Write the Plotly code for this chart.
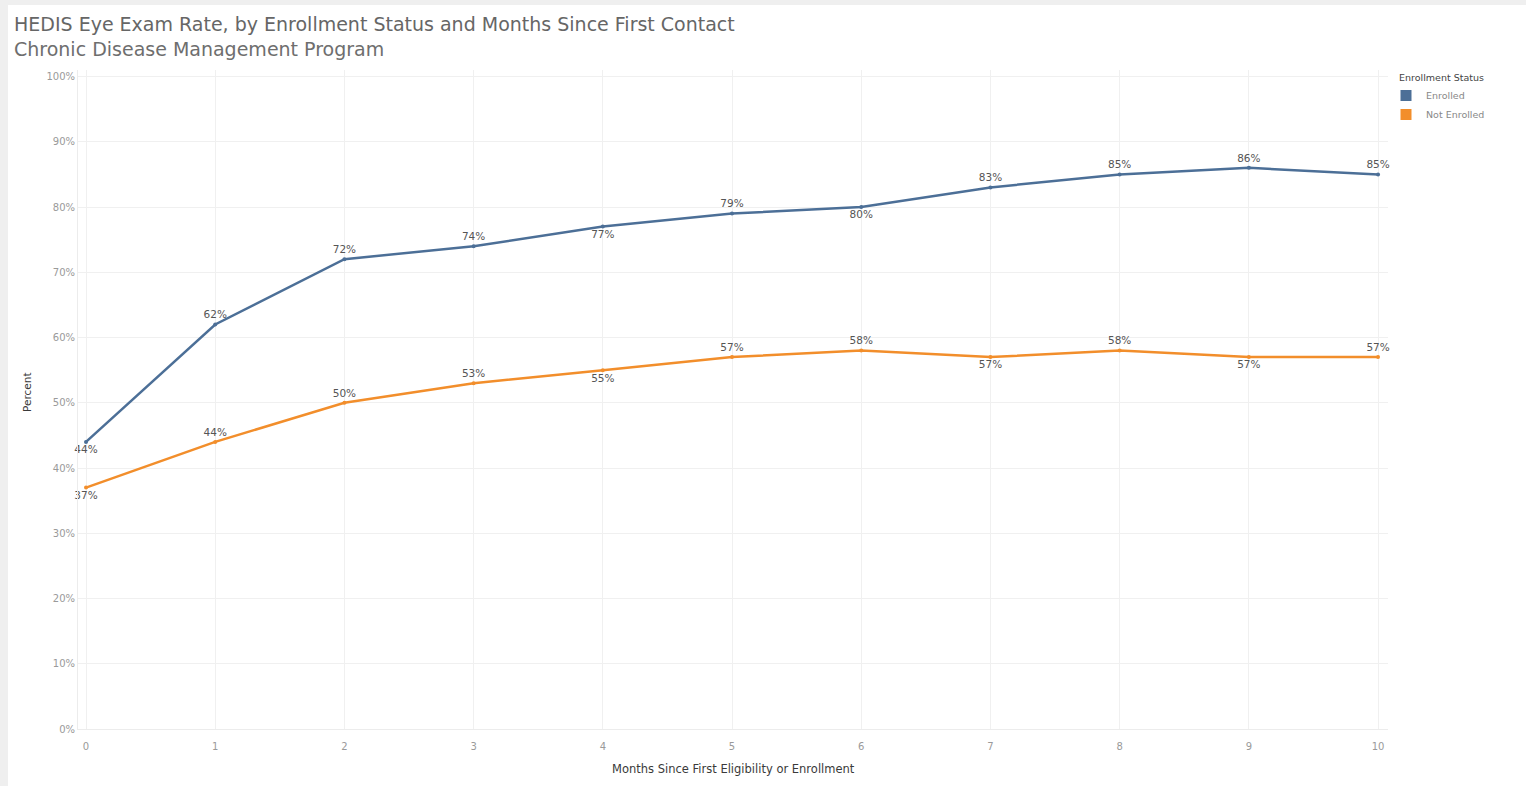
import plotly.graph_objects as go

# Months since first eligibility or enrollment
months = [0, 1, 2, 3, 4, 5, 6, 7, 8, 9, 10]

# HEDIS eye exam rate (%) by enrollment status
enrolled = [44, 62, 72, 74, 77, 79, 80, 83, 85, 86, 85]
not_enrolled = [37, 44, 50, 53, 55, 57, 58, 57, 58, 57, 57]

# Label placement per point (keeps labels from colliding)
enrolled_pos = ["bottom center", "top center", "top center", "top center", "bottom center",
                "top center", "bottom center", "top center", "top center", "top center", "top center"]
not_enrolled_pos = ["bottom center", "top center", "top center", "top center", "bottom center",
                    "top center", "top center", "bottom center", "top center", "bottom center", "top center"]

y_ticks = list(range(0, 101, 10))
y_tick_text = [f"{v}%" for v in y_ticks]

BLUE = "#4c6f97"
ORANGE = "#f28e2b"
FONT = "DejaVu Sans"

# Plot-area pixel geometry
W, H = 1526, 786
L, R, T, B = 78, 138, 70, 57
PW, PH = W - L - R, H - T - B


def px(x):
    return (x - L) / PW


def py(y):
    return (H - B - y) / PH


fig = go.Figure()

for name, vals, pos, color in [
    ("Enrolled", enrolled, enrolled_pos, BLUE),
    ("Not Enrolled", not_enrolled, not_enrolled_pos, ORANGE),
]:
    fig.add_trace(go.Scatter(
        x=months, y=vals, mode="lines+markers+text",
        line=dict(color=color, width=2.5),
        marker=dict(color=color, size=4),
        text=[f"{v}%" for v in vals], textposition=pos,
        textfont=dict(family=FONT, size=10.5, color="#555555"),
        cliponaxis=False, showlegend=False, name=name,
    ))
    # square swatch for the legend
    fig.add_trace(go.Scatter(
        x=[None], y=[None], mode="markers", name=name,
        marker=dict(symbol="square", size=11, color=color),
    ))

fig.update_layout(
    width=W, height=H,
    margin=dict(l=L, r=R, t=T, b=B),
    paper_bgcolor="#efefef",
    plot_bgcolor="white",
    font=dict(family=FONT, color="#666666"),
    legend=dict(
        x=px(1386), y=py(81), xanchor="left", yanchor="top",
        font=dict(family=FONT, size=9.5, color="#888888"),
        bgcolor="rgba(0,0,0,0)", itemwidth=30, tracegroupgap=0,
    ),
    shapes=[dict(
        type="rect", xref="paper", yref="paper", layer="below",
        x0=px(8), x1=px(W + 10), y0=py(H + 10), y1=py(5),
        fillcolor="white", line=dict(width=0),
    )],
    xaxis=dict(
        range=[-0.062, 10.077], tickvals=months,
        showgrid=True, gridcolor="#f0f0f0", gridwidth=1,
        zeroline=False, showline=True, linecolor="#ececec",
        tickfont=dict(family=FONT, size=10, color="#9a9a9a"),
        ticklabelstandoff=8, fixedrange=True,
    ),
    yaxis=dict(
        range=[0, 101], tickvals=y_ticks, ticktext=y_tick_text,
        showgrid=True, gridcolor="#f0f0f0", gridwidth=1,
        zeroline=False, showline=True, linecolor="#ececec",
        tickfont=dict(family=FONT, size=10, color="#9a9a9a"),
        fixedrange=True,
    ),
    annotations=[
        dict(text="HEDIS Eye Exam Rate, by Enrollment Status and Months Since First Contact",
             xref="paper", yref="paper", x=px(12), y=py(24), xanchor="left", yanchor="middle",
             showarrow=False, font=dict(family=FONT, size=19, color="#666666")),
        dict(text="Chronic Disease Management Program",
             xref="paper", yref="paper", x=px(12), y=py(49), xanchor="left", yanchor="middle",
             showarrow=False, font=dict(family=FONT, size=19, color="#6e6e6e")),
        dict(text="Enrollment Status",
             xref="paper", yref="paper", x=px(1397), y=py(78), xanchor="left", yanchor="middle",
             showarrow=False, font=dict(family=FONT, size=9.5, color="#444444")),
        dict(text="Months Since First Eligibility or Enrollment",
             xref="paper", yref="paper", x=px(733), y=py(769), xanchor="center", yanchor="middle",
             showarrow=False, font=dict(family=FONT, size=11.5, color="#3a3a3a")),
        dict(text="Percent",
             xref="paper", yref="paper", x=px(27), y=py(392), xanchor="center", yanchor="middle",
             textangle=-90, showarrow=False, font=dict(family=FONT, size=10.5, color="#3a3a3a")),
    ],
)

fig.write_html("out.html")
